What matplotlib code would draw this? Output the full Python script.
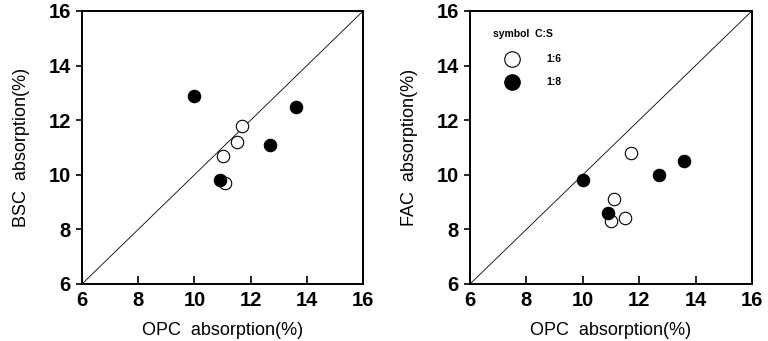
import matplotlib
matplotlib.use("Agg")
import matplotlib.pyplot as plt

plt.rcParams['font.family'] = ['Liberation Sans', 'DejaVu Sans']

# Left panel: BSC vs OPC
bsc_open_x = [11.0, 11.5, 11.7, 11.1]
bsc_open_y = [10.7, 11.2, 11.8, 9.7]
bsc_fill_x = [10.0, 13.6, 12.7, 10.9]
bsc_fill_y = [12.9, 12.5, 11.1, 9.8]

# Right panel: FAC vs OPC
fac_open_x = [11.7, 11.1, 11.0, 11.5]
fac_open_y = [10.8, 9.1, 8.3, 8.4]
fac_fill_x = [10.0, 10.9, 12.7, 13.6]
fac_fill_y = [9.8, 8.6, 10.0, 10.5]

ticks = [6, 8, 10, 12, 14, 16]
legend_labels = ["1:6", "1:8"]

fig = plt.figure(figsize=(7.68, 3.41), dpi=100)
ax1 = fig.add_axes([0.1068, 0.1672, 0.366, 0.8006])
ax2 = fig.add_axes([0.612, 0.1672, 0.367, 0.8006])

def style(ax, ylabel):
    ax.set_xlim(6, 16)
    ax.set_ylim(6, 16)
    ax.set_xticks(ticks)
    ax.set_yticks(ticks)
    ax.plot([6, 16], [6, 16], color='black', lw=0.6, zorder=1)
    for s in ax.spines.values():
        s.set_linewidth(1.4)
    ax.tick_params(axis='x', direction='in', length=6, width=1.2, labelsize=14.5, pad=5)
    ax.tick_params(axis='y', direction='out', length=4, width=1.2, labelsize=14.5, pad=4)
    for lab in ax.get_xticklabels() + ax.get_yticklabels():
        lab.set_fontweight('bold')
    ax.set_xlabel("OPC  absorption(%)", fontsize=13, labelpad=9)
    ax.set_ylabel(ylabel, fontsize=13, labelpad=13)

def points(ax, ox, oy, fx, fy):
    ax.scatter(ox, oy, s=80, facecolor='white', edgecolor='black', linewidth=0.8, zorder=3)
    ax.scatter(fx, fy, s=80, facecolor='black', edgecolor='black', linewidth=0.8, zorder=3)

style(ax1, "BSC  absorption(%)")
style(ax2, "FAC  absorption(%)")
points(ax1, bsc_open_x, bsc_open_y, bsc_fill_x, bsc_fill_y)
points(ax2, fac_open_x, fac_open_y, fac_fill_x, fac_fill_y)

# legend drawn manually
ax2.text(0.08, 0.915, "symbol  C:S", transform=ax2.transAxes, fontsize=7.5,
         fontweight='bold', va='center', ha='left')
ax2.scatter([0.149], [0.824], s=125, facecolor='white', edgecolor='black', linewidth=0.8,
            transform=ax2.transAxes, zorder=3, clip_on=False)
ax2.scatter([0.149], [0.740], s=125, facecolor='black', edgecolor='black', linewidth=0.8,
            transform=ax2.transAxes, zorder=3, clip_on=False)
ax2.text(0.27, 0.824, legend_labels[0], transform=ax2.transAxes, fontsize=7.5,
         fontweight='bold', va='center', ha='left')
ax2.text(0.27, 0.740, legend_labels[1], transform=ax2.transAxes, fontsize=7.5,
         fontweight='bold', va='center', ha='left')

fig.savefig("out.png", dpi=100)
